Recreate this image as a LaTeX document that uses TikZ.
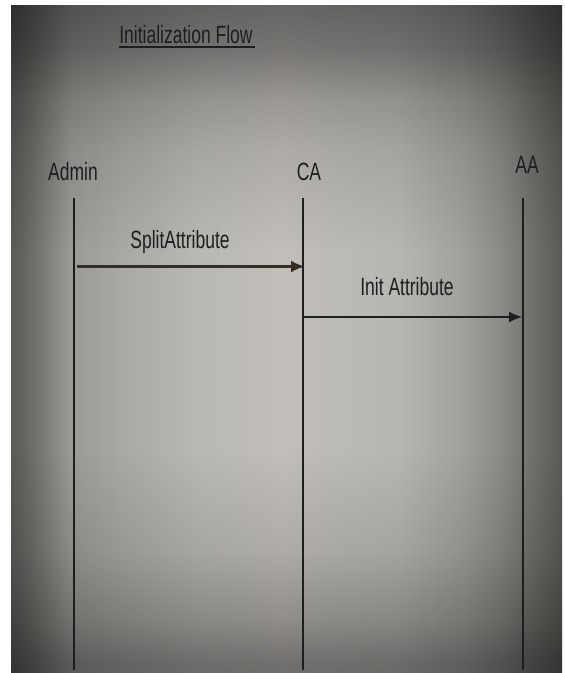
\documentclass[tikz,border=0pt]{standalone}
\usepackage{fontspec}
\usepackage{tikz}
\usetikzlibrary{arrows, arrows.meta}
\newfontfamily\flowfont[FakeStretch = 0.7]{Liberation Sans}
\definecolor{ink}{HTML}{1E1E1E}
\definecolor{hA}{HTML}{585A56}
\definecolor{hB}{HTML}{6E6E6A}
\definecolor{hC}{HTML}{9A9A96}
\definecolor{hD}{HTML}{A8A8A4}
\definecolor{hE}{HTML}{B8B8B4}
\definecolor{hF}{HTML}{C2BEBA}
\definecolor{hG}{HTML}{B6B6B2}
\definecolor{hH}{HTML}{A0A09C}
\definecolor{hI}{HTML}{8A8A86}
\definecolor{hJ}{HTML}{6E6E6A}
\definecolor{hK}{HTML}{5A5A56}
\definecolor{vA}{HTML}{949494}
\definecolor{vB}{HTML}{999999}
\definecolor{vC}{HTML}{BDBDBD}
\definecolor{vD}{HTML}{E6E6E6}
\definecolor{vE}{HTML}{FFFFFF}
\definecolor{vF}{HTML}{E6E6E6}
\definecolor{vG}{HTML}{CCCCCC}
\definecolor{vH}{HTML}{9E9E9E}
\definecolor{vI}{HTML}{878787}
\pgfdeclarehorizontalshading{rowfade}{100bp}{color(0bp)=(hA); color(25bp)=(hA); color(27bp)=(hB); color(30.4bp)=(hC); color(35bp)=(hD); color(42bp)=(hE); color(49.5bp)=(hF); color(60bp)=(hG); color(66bp)=(hH); color(69.5bp)=(hI); color(72.5bp)=(hJ); color(75bp)=(hK); color(100bp)=(hK)}
\pgfdeclareverticalshading{colfade}{100bp}{color(0bp)=(vA); color(25bp)=(vA); color(25.9bp)=(vB); color(28.9bp)=(vC); color(34.1bp)=(vD); color(41.6bp)=(vE); color(56.6bp)=(vE); color(64.1bp)=(vF); color(67.9bp)=(vG); color(71.6bp)=(vH); color(75bp)=(vI); color(100bp)=(vI)}
\tikzset{label/.style = {font = \flowfont\fontsize{25}{30}\selectfont, text = ink, inner sep = 0pt, anchor = base}}
\tikzset{lifeline/.style = {draw = ink, line width = 1.8pt}}
\tikzset{call/.style = {-{Latex[length = 14pt, width = 12pt]}, draw = ink}}

\begin{document}
\begin{tikzpicture}[x = 1pt, y = -1pt]
				\useasboundingbox (0, 0) rectangle (565, 673);
				\fill[white] (0, 0) rectangle (565, 673);
				\begin{scope}[blend group = multiply]
					\shade[shading = rowfade] (11, 5) rectangle (562, 672);
					\shade[shading = colfade] (11, 5) rectangle (562, 672);
				\end{scope}

				\node[label] (title) at (186, 43) {Initialization Flow};
				\draw[ink, line width = 1.8pt] ([yshift = -4pt]title.base west) -- ([yshift = -4pt, xshift = 2pt]title.base east);

				\node[label] (admin) at (73, 180) {Admin};
				\node[label] (ca) at (309, 180) {CA};
				\node[label] (aa) at (527, 173) {AA};

				\coordinate (admin top) at (74, 198);
				\coordinate (admin end) at (74, 670);
				\coordinate (ca top) at (303, 198);
				\coordinate (ca end) at (303, 670);
				\coordinate (aa top) at (523, 198);
				\coordinate (aa end) at (523, 670);

				\draw[lifeline] (admin top) to (admin end);
				\draw[lifeline] (ca top) to (ca end);
				\draw[lifeline] (aa top) to (aa end);

				\coordinate (split from) at (77, 266.5);
				\coordinate (split to) at (305, 266.5);
				\coordinate (init from) at (303, 317);
				\coordinate (init to) at (522, 317);

				\draw[call, line width = 2.6pt, draw = ink!85!brown] (split from) to (split to);
				\draw[call, line width = 1.4pt, -{Latex[length = 13pt, width = 11pt]}] (init from) to (init to);

				\node[label] (split) at (180, 248) {SplitAttribute};
				\node[label] (init) at (407, 295) {Init Attribute};
			\end{tikzpicture}
\end{document}
